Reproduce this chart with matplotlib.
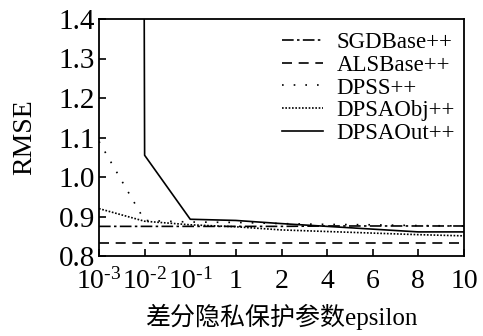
import matplotlib
matplotlib.use("Agg")
import matplotlib.pyplot as plt

plt.rcParams["font.family"] = ["Liberation Serif", "Noto Sans CJK SC"]
plt.rcParams["mathtext.fontset"] = "custom"
plt.rcParams["mathtext.rm"] = "Liberation Serif"
plt.rcParams["mathtext.it"] = "Liberation Serif:italic"

x_labels = [r"10$^{\text{-3}}$", r"10$^{\text{-2}}$", r"10$^{\text{-1}}$", "1", "2", "4", "6", "8", "10"]
x_pos = list(range(len(x_labels)))

sgd_base = [0.875, 0.875, 0.875, 0.875, 0.875, 0.876, 0.876, 0.876, 0.876]
als_base = [0.834, 0.834, 0.834, 0.834, 0.834, 0.834, 0.834, 0.834, 0.834]
dpss = [1.09, 0.89, 0.886, 0.885, 0.882, 0.88, 0.879, 0.877, 0.876]
dpsa_obj = [0.92, 0.888, 0.879, 0.874, 0.866, 0.862, 0.858, 0.854, 0.851]
dpsa_out = [40.0, 1.055, 0.893, 0.89, 0.882, 0.875, 0.868, 0.861, 0.861]

fig = plt.figure(figsize=(4.83, 3.36), dpi=100)
ax = fig.add_axes([99 / 483, 80 / 336, 365 / 483, 237 / 336])

lw = 1.2
ax.plot(x_pos, sgd_base, color="black", lw=lw, linestyle=(0, (7, 2, 1.5, 2)), label="SGDBase++")
ax.plot(x_pos, als_base, color="black", lw=lw, linestyle=(0, (6, 4)), label="ALSBase++")
ax.plot(x_pos, dpss, color="black", lw=lw, linestyle=(0, (1, 6)), label="DPSS++")
ax.plot(x_pos, dpsa_obj, color="black", lw=lw, linestyle=(0, (1, 1)), label="DPSAObj++")
ax.plot(x_pos, dpsa_out, color="black", lw=lw, linestyle="-", label="DPSAOut++")

ax.set_xlim(0, 8)
ax.set_ylim(0.8, 1.4)
ax.set_xticks(x_pos)
ax.set_xticklabels(x_labels)
ax.set_yticks([0.8, 0.9, 1.0, 1.1, 1.2, 1.3, 1.4])
ax.set_yticklabels(["0.8", "0.9", "1.0", "1.1", "1.2", "1.3", "1.4"])
ax.tick_params(direction="in", length=5, width=1.2, labelsize=21)
ax.tick_params(axis="x", pad=9, labelsize=20)
ax.tick_params(axis="y", pad=3)
for s in ax.spines.values():
    s.set_linewidth(1.3)

ax.set_ylabel("RMSE", fontsize=20, labelpad=15)
ax.set_xlabel("差分隐私保护参数epsilon", fontsize=18, labelpad=6)

ax.legend(loc="upper right", bbox_to_anchor=(1.0, 0.985), frameon=False, fontsize=16.5,
          handlelength=1.75, labelspacing=0.08, borderaxespad=0.0, handletextpad=0.6)

fig.savefig("out.png", dpi=100)
